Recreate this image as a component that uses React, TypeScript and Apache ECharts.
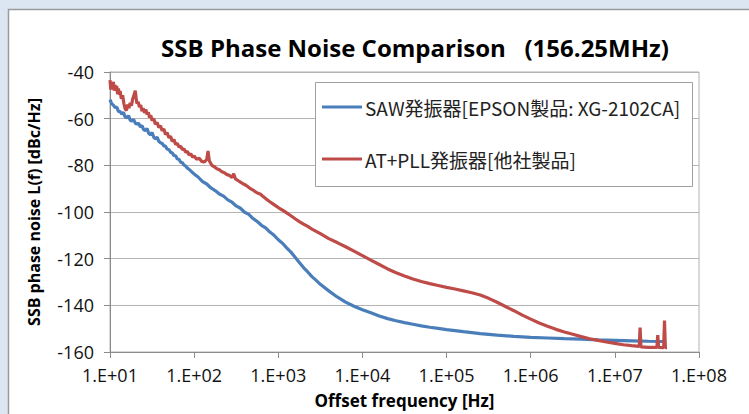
import React, { useEffect, useRef } from "react";
import * as echarts from "echarts";

// Offset frequency given as log10(Hz), and SSB phase noise (dBc/Hz)
const sawLogF = [
  1.0, 1.02, 1.04, 1.06, 1.08, 1.1, 1.12, 1.14, 1.16, 1.18, 1.2, 1.22, 1.24, 1.26, 1.28, 1.3, 1.32, 1.34, 1.36, 1.38,
  1.4, 1.42, 1.44, 1.46, 1.48, 1.5, 1.52, 1.54, 1.56, 1.58, 1.6, 1.62, 1.64, 1.66, 1.68, 1.7, 1.72, 1.74, 1.76, 1.78,
  1.8, 1.82, 1.84, 1.86, 1.88, 1.9, 1.92, 1.94, 1.96, 1.98, 2.0, 2.05, 2.1, 2.15, 2.2, 2.25, 2.3, 2.35, 2.4, 2.45,
  2.5, 2.55, 2.6, 2.65, 2.7, 2.75, 2.8, 2.85, 2.9, 2.95, 3.0, 3.05, 3.1, 3.15, 3.2, 3.25, 3.3, 3.35, 3.4, 3.45,
  3.5, 3.6, 3.7, 3.8, 3.9, 4.0, 4.1, 4.2, 4.3, 4.4, 4.5, 4.6, 4.7, 4.8, 4.9, 5.0, 5.2, 5.4, 5.6, 5.8,
  6.0, 6.2, 6.4, 6.6, 6.8, 7.0, 7.2, 7.4, 7.58,
];
const sawNoise = [
  -51.8, -53.6, -54.2, -55.2, -55.0, -56.9, -57.0, -58.0, -57.3, -59.3, -59.6, -58.7, -60.6, -61.1, -60.3, -61.9, -62.4, -61.9, -63.5, -63.0,
  -64.7, -65.1, -64.2, -66.3, -66.9, -65.9, -68.0, -68.6, -67.9, -69.7, -70.3, -70.6, -71.7, -71.8, -73.1, -73.2, -74.4, -74.7, -75.8, -75.9,
  -77.3, -77.4, -78.7, -78.9, -79.9, -80.3, -81.2, -81.7, -82.4, -83.1, -83.7, -85.1, -87.0, -88.0, -89.7, -90.8, -92.3, -93.2, -94.8, -95.8,
  -97.4, -98.4, -100.1, -101.0, -102.8, -104.1, -105.7, -106.8, -108.6, -110.0, -111.9, -113.4, -115.4, -117.2, -119.4, -121.6, -123.8, -125.7, -127.7, -129.3,
  -131.0, -133.8, -136.4, -138.6, -140.4, -141.9, -143.2, -144.6, -145.7, -146.6, -147.4, -148.1, -148.8, -149.4, -149.9, -150.4, -151.3, -152.1, -152.8, -153.3,
  -153.7, -154.0, -154.3, -154.5, -154.8, -155.0, -155.2, -155.4, -155.5,
];

const pllLogF = [
  1.0, 1.01, 1.02, 1.03, 1.04, 1.05, 1.06, 1.07, 1.08, 1.09, 1.1, 1.11, 1.12, 1.135, 1.15, 1.165, 1.18, 1.195, 1.21, 1.225,
  1.24, 1.255, 1.27, 1.285, 1.3, 1.31, 1.32, 1.335, 1.35, 1.365, 1.38, 1.395, 1.41, 1.425, 1.44, 1.455, 1.47, 1.485, 1.5, 1.52,
  1.54, 1.56, 1.58, 1.6, 1.62, 1.64, 1.66, 1.68, 1.7, 1.72, 1.74, 1.76, 1.78, 1.8, 1.82, 1.84, 1.86, 1.88, 1.9, 1.92,
  1.94, 1.96, 1.98, 2.0, 2.03, 2.06, 2.09, 2.12, 2.15, 2.165, 2.18, 2.21, 2.24, 2.27, 2.3, 2.33, 2.36, 2.39, 2.42, 2.45,
  2.47, 2.49, 2.52, 2.55, 2.58, 2.61, 2.64, 2.67, 2.7, 2.73, 2.76, 2.79, 2.82, 2.86, 2.9, 2.94, 2.98, 3.02, 3.06, 3.1,
  3.15, 3.2, 3.25, 3.3, 3.35, 3.4, 3.45, 3.5, 3.6, 3.7, 3.8, 3.9, 4.0, 4.1, 4.2, 4.3, 4.4, 4.5, 4.6, 4.7,
  4.8, 4.9, 5.0, 5.1, 5.2, 5.3, 5.4, 5.5, 5.6, 5.7, 5.8, 5.9, 6.0, 6.1, 6.2, 6.3, 6.4, 6.5, 6.6, 6.7,
  6.8, 6.9, 7.0, 7.1, 7.2, 7.29, 7.3, 7.31, 7.4, 7.5, 7.51, 7.52, 7.58, 7.59, 7.6, 7.62,
];
const pllNoise = [
  -43.5, -47.5, -44.8, -46.5, -44.2, -48.0, -45.6, -47.8, -46.0, -49.5, -47.0, -49.8, -48.2, -51.5, -50.0, -53.5, -55.8, -56.5, -54.0, -55.5,
  -53.2, -54.5, -51.5, -50.0, -48.0, -51.0, -53.5, -52.8, -55.0, -54.2, -56.8, -55.5, -57.5, -56.0, -58.2, -57.3, -59.5, -58.6, -60.8, -60.0,
  -62.4, -61.6, -63.8, -63.0, -65.2, -64.4, -66.8, -66.0, -68.2, -67.5, -69.8, -69.0, -71.0, -70.6, -72.2, -71.8, -73.2, -73.0, -74.4, -74.0,
  -75.6, -75.0, -76.5, -76.0, -77.4, -77.0, -78.3, -78.6, -77.5, -73.8, -78.0, -80.0, -80.6, -81.5, -81.9, -82.8, -83.2, -84.0, -84.3, -85.3,
  -83.6, -85.8, -86.5, -87.2, -87.9, -88.4, -89.2, -90.0, -90.6, -91.4, -92.0, -92.4, -93.4, -94.5, -95.6, -96.6, -97.6, -98.6, -99.4, -100.4,
  -101.6, -102.9, -104.1, -105.2, -106.2, -107.3, -108.3, -109.3, -111.4, -113.1, -114.9, -116.8, -118.7, -120.6, -122.5, -124.4, -126.0, -127.4, -128.7, -129.8,
  -130.7, -131.5, -132.3, -133.0, -133.8, -134.6, -135.6, -137.0, -138.7, -140.5, -142.3, -144.2, -145.9, -147.6, -149.0, -150.3, -151.4, -152.4, -153.4, -154.3,
  -155.0, -155.7, -156.3, -156.9, -157.3, -157.6, -149.5, -157.8, -158.0, -158.0, -152.8, -158.0, -158.1, -146.5, -158.1, -158.1,
];

const seriesNames = ["SAW発振器[EPSON製品: XG-2102CA]", "AT+PLL発振器[他社製品]"];
const titleText = "SSB Phase Noise Comparison   (156.25MHz)";
const xAxisName = "Offset frequency [Hz]";
const yAxisName = "SSB phase noise L(f) [dBc/Hz]";

const LATIN = "'Open Sans', 'Noto Sans', sans-serif";
const CJK = "'Noto Sans CJK JP', 'Noto Sans', sans-serif";

export default function App() {
  const ref = useRef<HTMLDivElement>(null);
  useEffect(() => {
    if (!ref.current) return;
    const chart = echarts.init(ref.current, undefined, { renderer: "svg" });
    const toData = (lf: number[], v: number[]) => lf.map((l, i) => [Math.pow(10, l), v[i]]);
    chart.setOption({
      animation: false,
      backgroundColor: "#dce6f2",
      graphic: [
        {
          type: "rect",
          z: -10,
          shape: { x: 8.5, y: 9.5, width: 780, height: 420 },
          style: { fill: "#ffffff", stroke: "#9a9a9a", lineWidth: 1.5 },
        },
        {
          type: "text",
          z: 10,
          x: 415,
          y: 47,
          style: {
            text: titleText,
            font: `bold 24px ${LATIN}`,
            fill: "#000",
            textAlign: "center",
            textVerticalAlign: "middle",
          },
        },
        {
          type: "rect",
          z: 5,
          shape: { x: 315.5, y: 82.5, width: 377, height: 104 },
          style: { fill: "#ffffff", stroke: "#a0a0a0", lineWidth: 1 },
        },
      ],
      legend: {
        z: 20,
        orient: "vertical",
        left: 322,
        top: 97,
        padding: 0,
        itemGap: 32,
        itemWidth: 40,
        itemHeight: 3,
        icon: "rect",
        textStyle: { fontFamily: CJK, fontSize: 19, lineHeight: 20, color: "#222", padding: [0, 0, 0, -2] },
        data: seriesNames,
      },
      grid: {
        left: 110,
        right: 50,
        top: 72,
        bottom: 46,
        show: true,
        borderColor: "#b0b0b0",
        borderWidth: 1,
      },
      xAxis: {
        type: "log",
        logBase: 10,
        min: 10,
        max: 1e8,
        name: xAxisName,
        nameLocation: "middle",
        nameGap: 40,
        nameTextStyle: { fontFamily: LATIN, fontSize: 17, fontWeight: "bold", color: "#000" },
        axisLine: { lineStyle: { color: "#8c8c8c" } },
        axisTick: { show: true, length: 6, lineStyle: { color: "#8c8c8c" } },
        minorTick: { show: false },
        splitLine: { show: false },
        axisLabel: {
          fontFamily: LATIN,
          fontSize: 18,
          color: "#111",
          margin: 14,
          formatter: (v: number) => {
            const e = Math.round(Math.log10(v));
            return "1.E+" + (e < 10 ? "0" + e : String(e));
          },
        },
      },
      yAxis: {
        type: "value",
        min: -160,
        max: -40,
        interval: 20,
        name: yAxisName,
        nameLocation: "middle",
        nameRotate: 90,
        nameGap: 68,
        nameTextStyle: { fontFamily: LATIN, fontSize: 16, fontWeight: "bold", color: "#000" },
        axisLine: { show: true, lineStyle: { color: "#8c8c8c" } },
        axisTick: { show: true, length: 6, lineStyle: { color: "#8c8c8c" } },
        splitLine: { show: true, lineStyle: { color: "#b4b4b4", width: 1 } },
        axisLabel: { fontFamily: LATIN, fontSize: 18, color: "#111", margin: 16 },
      },
      series: [
        {
          name: seriesNames[0],
          type: "line",
          data: toData(sawLogF, sawNoise),
          showSymbol: false,
          symbol: "none",
          lineStyle: { color: "#4a7ebb", width: 3.2 },
          itemStyle: { color: "#4a7ebb" },
          z: 2,
        },
        {
          name: seriesNames[1],
          type: "line",
          data: toData(pllLogF, pllNoise),
          showSymbol: false,
          symbol: "none",
          lineStyle: { color: "#be4b48", width: 3.2 },
          itemStyle: { color: "#be4b48" },
          z: 3,
        },
      ],
    });
    return () => chart.dispose();
  }, []);
  return (
    <div style={{ position: "fixed", left: 0, top: 0, width: 749, height: 414 }}>
      <div ref={ref} style={{ width: 749, height: 414 }} />
    </div>
  );
}
